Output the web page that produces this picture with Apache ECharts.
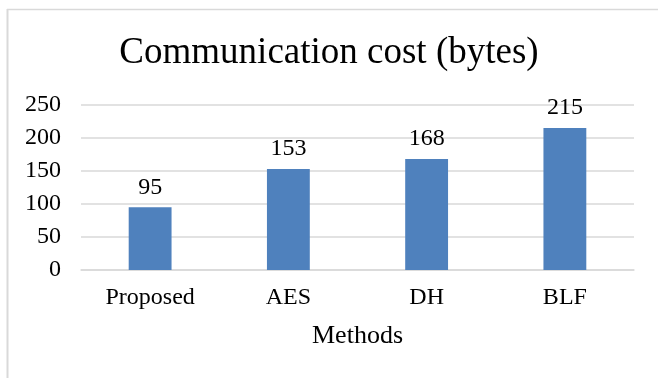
<!DOCTYPE html>
<html>
<head>
<meta charset="utf-8">
<script src="https://cdn.jsdelivr.net/npm/echarts@6/dist/echarts.min.js"></script>
<style>
  html, body { margin: 0; padding: 0; background: #ffffff; }
  #chart { width: 658px; height: 378px; }
</style>
</head>
<body>
<div id="chart"></div>
<script>
// Communication cost per method, in bytes
const methods = ['Proposed', 'AES', 'DH', 'BLF'];
const costBytes = [95, 153, 168, 215];
const yTicks = { min: 0, max: 250, step: 50 };

const serif = '"Liberation Serif", "Times New Roman", serif';

const chart = echarts.init(document.getElementById('chart'), null, { renderer: 'canvas' });

chart.setOption({
  backgroundColor: '#ffffff',
  animation: false,
  title: {
    text: 'Communication cost (bytes)',
    left: 'center',
    top: 30,
    textStyle: { fontFamily: serif, fontSize: 37, fontWeight: 'normal', color: '#000000' }
  },
  graphic: [
    // chart area frame (top and left edges)
    { type: 'line', shape: { x1: 7, y1: 9.5, x2: 660, y2: 9.5 }, style: { stroke: '#d9d9d9', lineWidth: 1.5 } },
    { type: 'line', shape: { x1: 7.5, y1: 9, x2: 7.5, y2: 380 }, style: { stroke: '#d9d9d9', lineWidth: 2 } }
  ],
  grid: { left: 81, right: 24, top: 105, bottom: 108, containLabel: false },
  xAxis: {
    type: 'category',
    data: methods,
    name: 'Methods',
    nameLocation: 'middle',
    nameGap: 53,
    nameTextStyle: { fontFamily: serif, fontSize: 26, color: '#000000' },
    axisLine: { show: true, lineStyle: { color: '#d9d9d9', width: 1.5 } },
    axisTick: { show: false },
    axisLabel: { fontFamily: serif, fontSize: 24, color: '#000000', margin: 16 }
  },
  yAxis: {
    type: 'value',
    min: yTicks.min,
    max: yTicks.max,
    interval: yTicks.step,
    axisLine: { show: false },
    axisTick: { show: false },
    axisLabel: { fontFamily: serif, fontSize: 24, color: '#000000', margin: 20 },
    splitLine: { lineStyle: { color: '#d9d9d9', width: 1.5 } }
  },
  series: [{
    type: 'bar',
    data: costBytes,
    barWidth: '31%',
    itemStyle: { color: '#4f81bd' },
    label: {
      show: true,
      position: 'top',
      distance: 8,
      fontFamily: serif,
      fontSize: 24,
      color: '#000000'
    }
  }]
});
</script>
</body>
</html>
